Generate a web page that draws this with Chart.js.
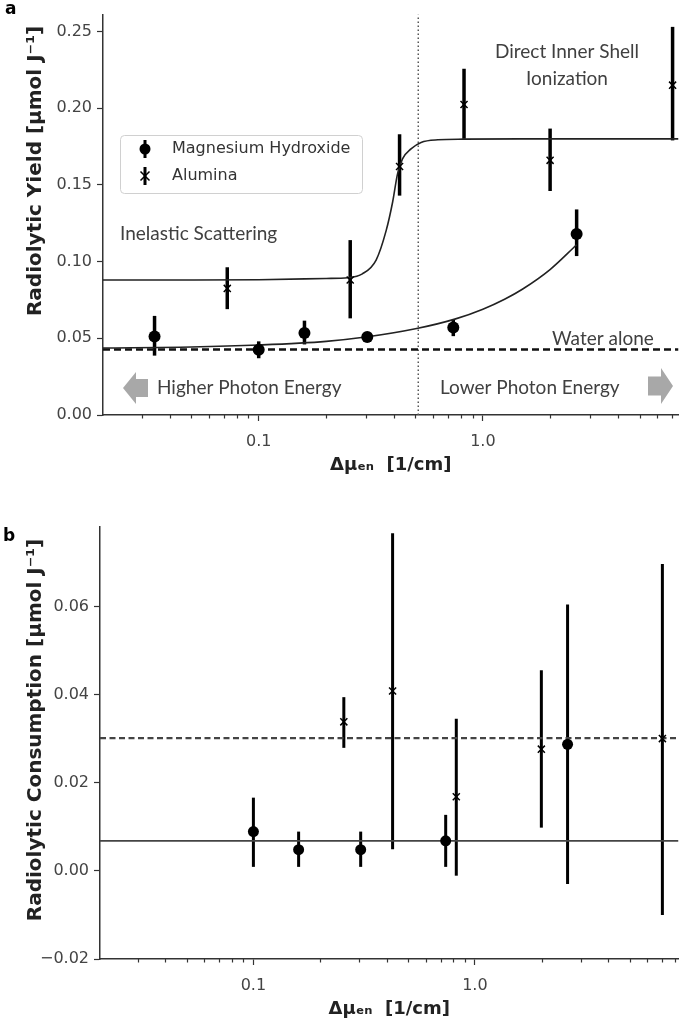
<!DOCTYPE html>
<html>
<head>
<meta charset="utf-8">
<script src="https://cdn.jsdelivr.net/npm/chart.js@4.4.1/dist/chart.umd.min.js"></script>
<style>
  html, body { margin: 0; padding: 0; background: #fff; }
  #wrap { position: relative; width: 685px; height: 1024px; overflow: hidden; }
  .panel { position: absolute; left: 0; width: 685px; }
  #boxA { top: 0; height: 480px; }
  #boxB { top: 480px; height: 544px; }
</style>
</head>
<body>
<div id="wrap">
  <div class="panel" id="boxA"><canvas id="chartA"></canvas></div>
  <div class="panel" id="boxB"><canvas id="chartB"></canvas></div>
</div>
<script>
// ---------- data ----------
const mgX = [0.0343, 0.1, 0.16, 0.305, 0.738, 2.62];
const alX = [0.0724, 0.256, 0.425, 0.824, 1.995, 7.02];

// panel a: radiolytic yield
const mgYield   = [0.0512, 0.0425, 0.0535, 0.0508, 0.0571, 0.118];
const mgYieldLo = [0.0387, 0.037, 0.046, 0.048, 0.0514, 0.1036];
const mgYieldHi = [0.0646, 0.048, 0.0615, 0.053, 0.062, 0.134];
const alYield   = [0.0825, 0.088, 0.162, 0.2024, 0.166, 0.215];
const alYieldLo = [0.069, 0.063, 0.143, 0.180, 0.146, 0.179];
const alYieldHi = [0.0963, 0.114, 0.183, 0.2257, 0.1867, 0.253];

// fitted curves
const alFitX = [0.0202, 0.05, 0.1, 0.2, 0.25, 0.29, 0.334, 0.37, 0.396, 0.416, 0.438, 0.478, 0.53, 0.63, 0.82, 1.5, 7.46];
const alFitY = [0.088, 0.088, 0.0882, 0.089, 0.0895, 0.092, 0.101, 0.12, 0.139, 0.157, 0.167, 0.1735, 0.1777, 0.1794, 0.1798, 0.18, 0.18];
const mgFitX = [0.0202, 0.05, 0.1, 0.2, 0.3, 0.5, 0.75, 1.0, 1.25, 1.5, 2.0, 2.62];
const mgFitY = [0.0437, 0.0443, 0.0456, 0.048, 0.0508, 0.0562, 0.0625, 0.069, 0.0755, 0.082, 0.095, 0.111];
const waterAlone = 0.0427;
const edgeX = 0.515;

// panel b: radiolytic consumption
const mgConsX  = [0.1, 0.16, 0.305, 0.738, 2.62];
const mgCons   = [0.0089, 0.0048, 0.0048, 0.0068, 0.0287];
const mgConsLo = [0.0009, 0.0009, 0.0009, 0.0009, -0.003];
const mgConsHi = [0.0166, 0.0089, 0.0089, 0.0127, 0.0604];
const alConsX  = [0.256, 0.425, 0.824, 1.995, 7.02];
const alCons   = [0.0338, 0.0408, 0.0168, 0.0276, 0.030];
const alConsLo = [0.0279, 0.0049, -0.0011, 0.0098, -0.010];
const alConsHi = [0.0394, 0.0766, 0.0345, 0.0455, 0.0696];
const alConsMean = 0.0301;
const mgConsMean = 0.0068;

// axes
const xRangeA = [0.0202, 7.46];
const xRangeB = [0.0203, 8.3];
const xMajor = [0.1, 1];
const xMajorLabels = ['0.1', '1.0'];
const xMinor = [0.02, 0.03, 0.04, 0.05, 0.06, 0.07, 0.08, 0.09, 0.2, 0.3, 0.4, 0.5, 0.6, 0.7, 0.8, 0.9, 2, 3, 4, 5, 6, 7, 8, 9];
const yTicksA = [0, 0.05, 0.1, 0.15, 0.2, 0.25];
const yLabelsA = ['0.00', '0.05', '0.10', '0.15', '0.20', '0.25'];
const yTicksB = [-0.02, 0, 0.02, 0.04, 0.06];
const yLabelsB = ['\u22120.02', '0.00', '0.02', '0.04', '0.06'];

const pts = (xs, ys) => xs.map((x, i) => ({x: x, y: ys[i]}));
const TICK_FONT = {family: 'DejaVu Sans', size: 16};

// ---------- plugins ----------
const errorBars = {
  id: 'errorBars',
  beforeDatasetsDraw(chart, args, opts) {
    const {ctx, scales: {x, y}} = chart;
    ctx.save();
    ctx.strokeStyle = '#000';
    ctx.lineWidth = opts.width || 3;
    chart.data.datasets.forEach((ds, i) => {
      if (!ds.errLo || !chart.isDatasetVisible(i)) return;
      ds.data.forEach((p, j) => {
        const px = x.getPixelForValue(p.x);
        ctx.beginPath();
        ctx.moveTo(px, y.getPixelForValue(ds.errLo[j]));
        ctx.lineTo(px, y.getPixelForValue(ds.errHi[j]));
        ctx.stroke();
      });
    });
    ctx.restore();
  }
};

const minorTicks = {
  id: 'minorTicks',
  afterDraw(chart) {
    const {ctx, scales: {x}, chartArea} = chart;
    ctx.save();
    ctx.strokeStyle = '#333';
    ctx.lineWidth = 1.2;
    xMinor.forEach(v => {
      if (v <= x.min || v >= x.max) return;
      const px = Math.round(x.getPixelForValue(v)) + 0.5;
      ctx.beginPath();
      ctx.moveTo(px, chartArea.bottom);
      ctx.lineTo(px, chartArea.bottom + 3.5);
      ctx.stroke();
    });
    ctx.restore();
  }
};

function drawMarker(ctx, kind, cx, cy) {
  ctx.save();
  ctx.strokeStyle = '#000';
  ctx.fillStyle = '#000';
  ctx.lineWidth = 3;
  ctx.beginPath();
  ctx.moveTo(cx, cy - 9);
  ctx.lineTo(cx, cy + 9);
  ctx.stroke();
  if (kind === 'circle') {
    ctx.beginPath();
    ctx.arc(cx, cy, 5.5, 0, Math.PI * 2);
    ctx.fill();
  } else {
    ctx.lineWidth = 1.5;
    ctx.beginPath();
    ctx.moveTo(cx - 4.5, cy - 4.5); ctx.lineTo(cx + 4.5, cy + 4.5);
    ctx.moveTo(cx - 4.5, cy + 4.5); ctx.lineTo(cx + 4.5, cy - 4.5);
    ctx.stroke();
  }
  ctx.restore();
}

function arrow(ctx, dir, tipX, cy, headLen, headHalf, bodyLen, bodyHalf) {
  const b = tipX - dir * headLen;
  const e = b - dir * bodyLen;
  ctx.beginPath();
  ctx.moveTo(tipX, cy);
  ctx.lineTo(b, cy - headHalf);
  ctx.lineTo(b, cy - bodyHalf);
  ctx.lineTo(e, cy - bodyHalf);
  ctx.lineTo(e, cy + bodyHalf);
  ctx.lineTo(b, cy + bodyHalf);
  ctx.lineTo(b, cy + headHalf);
  ctx.closePath();
  ctx.fill();
}

const decor = {
  id: 'decor',
  afterDraw(chart, args, opts) {
    const ctx = chart.ctx;
    ctx.save();
    // panel letter
    ctx.fillStyle = '#000';
    ctx.font = 'bold 17px "DejaVu Sans"';
    ctx.textAlign = 'left';
    ctx.textBaseline = 'middle';
    ctx.fillText(opts.letter, opts.letterPos[0], opts.letterPos[1]);
    // rotated y title
    ctx.save();
    ctx.translate(opts.yTitlePos[0], opts.yTitlePos[1]);
    ctx.rotate(-Math.PI / 2);
    ctx.font = 'bold 20px "DejaVu Sans"';
    ctx.fillStyle = '#222';
    ctx.textAlign = 'center';
    ctx.fillText(opts.yTitle, 0, 0);
    ctx.restore();
    // free notes
    (opts.notes || []).forEach(n => {
      ctx.font = '19px Lato';
      ctx.fillStyle = '#404040';
      ctx.textAlign = n.align || 'left';
      ctx.fillText(n.text, n.x, n.y);
    });
    if (opts.arrows) {
      ctx.fillStyle = '#a8a8a8';
      arrow(ctx, -1, 123, 388, 13, 16, 12, 9);
      arrow(ctx, 1, 673, 386, 12, 18, 13, 9.5);
    }
    // legend box
    if (opts.legend) {
      const L = opts.legend;
      ctx.beginPath();
      ctx.roundRect(L.x + 0.5, L.y + 0.5, L.w, L.h, 4);
      ctx.fillStyle = 'rgba(255,255,255,0.85)';
      ctx.fill();
      ctx.strokeStyle = '#d0d0d0';
      ctx.lineWidth = 1;
      ctx.stroke();
      L.items.forEach((it, k) => {
        const cy = L.y + 14 + k * 27;
        drawMarker(ctx, it.kind, L.x + 25, cy);
        ctx.font = '16px "DejaVu Sans"';
        ctx.fillStyle = '#333';
        ctx.textAlign = 'left';
        ctx.textBaseline = 'middle';
        ctx.fillText(it.label, L.x + 52, cy);
      });
    }
    ctx.restore();
  }
};

function xAxis(range) {
  return {
    type: 'logarithmic',
    min: range[0],
    max: range[1],
    afterBuildTicks: s => { s.ticks = xMajor.map(v => ({value: v, major: true})); },
    afterFit: s => { s.height = 65; },
    grid: {drawOnChartArea: false, drawTicks: true, tickLength: 6, tickColor: '#333', tickWidth: 1.2},
    border: {color: '#333', width: 1.5},
    ticks: {
      color: '#444', font: TICK_FONT, padding: 11, maxRotation: 0, autoSkip: false,
      callback: (v, i) => xMajorLabels[i]
    },
    title: {
      display: true, text: '\u0394\u03bc\u2091\u2099  [1/cm]', color: '#222',
      font: {family: 'DejaVu Sans', size: 18, weight: 'bold'},
      padding: {top: 0, bottom: 4}
    }
  };
}

function yAxis(min, max, ticks, labels, width) {
  return {
    min: min,
    max: max,
    afterBuildTicks: s => { s.ticks = ticks.map(v => ({value: v})); },
    afterFit: s => { s.width = width; },
    grid: {drawOnChartArea: false, drawTicks: true, tickLength: 6, tickColor: '#333', tickWidth: 1.2},
    border: {color: '#333', width: 1.5},
    ticks: {color: '#444', font: TICK_FONT, padding: 5, callback: (v, i) => labels[i]}
  };
}

const lineStyle = (extra) => Object.assign({
  type: 'line', showLine: true, pointRadius: 0, pointHoverRadius: 0,
  borderColor: '#222', borderWidth: 1.6, fill: false
}, extra);

// ---------- panel a ----------
new Chart(document.getElementById('chartA'), {
  type: 'scatter',
  data: {
    datasets: [
      {label: 'Magnesium Hydroxide', data: pts(mgX, mgYield), errLo: mgYieldLo, errHi: mgYieldHi,
       pointStyle: 'circle', pointRadius: 6, backgroundColor: '#000', borderColor: '#000', borderWidth: 0},
      {label: 'Alumina', data: pts(alX, alYield), errLo: alYieldLo, errHi: alYieldHi,
       pointStyle: 'crossRot', pointRadius: 5, borderColor: '#000', borderWidth: 1.5},
      lineStyle({label: 'Alumina fit', data: pts(alFitX, alFitY), cubicInterpolationMode: 'monotone'}),
      lineStyle({label: 'Mg(OH)2 fit', data: pts(mgFitX, mgFitY), cubicInterpolationMode: 'monotone'}),
      lineStyle({label: 'Water alone', data: pts(xRangeA, [waterAlone, waterAlone]),
                 borderColor: '#111', borderWidth: 2.5, borderDash: [7, 4]}),
      lineStyle({label: 'edge', data: [{x: edgeX, y: 0}, {x: edgeX, y: 0.261}],
                 borderColor: '#555', borderWidth: 1.5, borderDash: [1.5, 2.5]})
    ]
  },
  options: {
    responsive: true,
    maintainAspectRatio: false,
    animation: false,
    layout: {padding: {top: 3, right: 2, left: 0, bottom: 0}},
    scales: {
      x: xAxis(xRangeA),
      y: yAxis(0, 0.261, yTicksA, yLabelsA, 103)
    },
    plugins: {
      legend: {display: false},
      tooltip: {enabled: false},
      errorBars: {width: 3.5},
      decor: {
        letter: 'a', letterPos: [5, 10],
        yTitle: 'Radiolytic Yield [\u00b5mol J\u207b\u00b9]', yTitlePos: [36, 171],
        notes: [
          {text: 'Direct Inner Shell', x: 567, y: 52, align: 'center'},
          {text: 'Ionization', x: 567, y: 79, align: 'center'},
          {text: 'Inelastic Scattering', x: 120, y: 234},
          {text: 'Water alone', x: 552, y: 339},
          {text: 'Higher Photon Energy', x: 157, y: 388},
          {text: 'Lower Photon Energy', x: 440, y: 388}
        ],
        arrows: true,
        legend: {x: 120, y: 135, w: 242, h: 58, items: [
          {kind: 'circle', label: 'Magnesium Hydroxide'},
          {kind: 'x', label: 'Alumina'}
        ]}
      }
    }
  },
  plugins: [errorBars, minorTicks, decor]
});

// ---------- panel b ----------
new Chart(document.getElementById('chartB'), {
  type: 'scatter',
  data: {
    datasets: [
      {label: 'Magnesium Hydroxide', data: pts(mgConsX, mgCons), errLo: mgConsLo, errHi: mgConsHi,
       pointStyle: 'circle', pointRadius: 5.5, backgroundColor: '#000', borderColor: '#000', borderWidth: 0},
      {label: 'Alumina', data: pts(alConsX, alCons), errLo: alConsLo, errHi: alConsHi,
       pointStyle: 'crossRot', pointRadius: 5, borderColor: '#000', borderWidth: 1.5},
      lineStyle({label: 'Alumina mean', data: pts(xRangeB, [alConsMean, alConsMean]),
                 borderColor: '#444', borderWidth: 2.2, borderDash: [6, 3.5]}),
      lineStyle({label: 'Mg(OH)2 mean', data: pts(xRangeB, [mgConsMean, mgConsMean]),
                 borderColor: '#444', borderWidth: 1.8})
    ]
  },
  options: {
    responsive: true,
    maintainAspectRatio: false,
    animation: false,
    layout: {padding: {top: 47, right: 2, left: 0, bottom: 0}},
    scales: {
      x: xAxis(xRangeB),
      y: yAxis(-0.02, 0.078, yTicksB, yLabelsB, 100)
    },
    plugins: {
      legend: {display: false},
      tooltip: {enabled: false},
      errorBars: {width: 3},
      decor: {
        letter: 'b', letterPos: [3, 57],
        yTitle: 'Radiolytic Consumption [\u00b5mol J\u207b\u00b9]', yTitlePos: [36, 250]
      }
    }
  },
  plugins: [errorBars, minorTicks, decor]
});
</script>
</body>
</html>
